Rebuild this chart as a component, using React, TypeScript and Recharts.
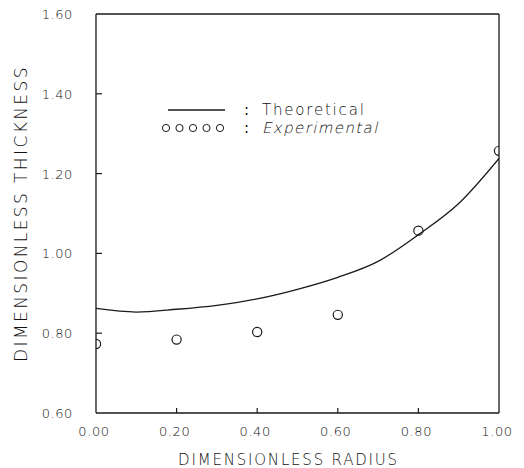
import React from "react";
import {
  ComposedChart,
  Line,
  Scatter,
  XAxis,
  YAxis,
  ReferenceLine,
} from "recharts";

// Theoretical curve (dimensionless radius -> dimensionless thickness)
const theoryRadius = [0, 0.1, 0.2, 0.3, 0.4, 0.5, 0.6, 0.7, 0.8, 0.9, 1.0];
const theoryThickness = [0.862, 0.853, 0.86, 0.87, 0.886, 0.91, 0.94, 0.98, 1.047, 1.125, 1.238];

// Experimental points
const expRadius = [0, 0.2, 0.4, 0.6, 0.8, 1.0];
const expThickness = [0.773, 0.784, 0.803, 0.846, 1.057, 1.257];

const xTicks = [0, 0.2, 0.4, 0.6, 0.8, 1.0];
const yTicks = [0.6, 0.8, 1.0, 1.2, 1.4, 1.6];

const theoryData = theoryRadius.map((x, i) => ({ x, y: theoryThickness[i] }));
const expData = expRadius.map((x, i) => ({ x, y: expThickness[i] }));

const FONT = "'DejaVu Sans', 'Liberation Sans', sans-serif";
const INK = "#1a1a1a";
const TXT = "#111111";
const WEIGHT = 200;

const XTick = (props: any) => {
  const { x, y, payload } = props;
  const v = payload.value;
  const inner = v > 0 && v < 1;
  return (
    <g>
      {inner && <line x1={x} y1={y} x2={x} y2={y - 5} stroke={INK} strokeWidth={1.2} />}
      <text
        x={x - 2}
        y={y + 23}
        textAnchor="middle"
        fontFamily={FONT}
        fontWeight={WEIGHT}
        fontSize={13}
        letterSpacing={0.6}
        fill={TXT}
      >
        {v.toFixed(2)}
      </text>
    </g>
  );
};

const YTick = (props: any) => {
  const { x, y, payload } = props;
  const v = payload.value;
  const inner = v > 0.6 && v < 1.6;
  return (
    <g>
      {inner && <line x1={x} y1={y} x2={x + 6} y2={y} stroke={INK} strokeWidth={1.2} />}
      <text
        x={x - 23}
        y={y + 5}
        textAnchor="end"
        fontFamily={FONT}
        fontWeight={WEIGHT}
        fontSize={13}
        letterSpacing={0.6}
        fill={TXT}
      >
        {v.toFixed(2)}
      </text>
    </g>
  );
};

const YTitle = (props: any) => {
  const vb = props.viewBox || {};
  const cy = vb.y + vb.height / 2;
  const cx = 27;
  return (
    <text
      x={cx}
      y={cy}
      transform={`rotate(-90, ${cx}, ${cy})`}
      textAnchor="middle"
      fontFamily={FONT}
      fontWeight={WEIGHT}
      fontSize={17}
      letterSpacing={2.4}
      fill={TXT}
    >
      DIMENSIONLESS THICKNESS
    </text>
  );
};

const XTitle = (props: any) => {
  const vb = props.viewBox || {};
  const cx = vb.x + vb.width / 2 - 9;
  return (
    <text
      x={cx}
      y={465}
      textAnchor="middle"
      fontFamily={FONT}
      fontWeight={WEIGHT}
      fontSize={15}
      letterSpacing={1.8}
      fill={TXT}
    >
      DIMENSIONLESS RADIUS
    </text>
  );
};

const Circle = (props: any) => {
  const { cx, cy } = props;
  return <circle cx={cx} cy={cy} r={4.6} fill="none" stroke={INK} strokeWidth={1.2} />;
};

const LegendBox = () => (
  <svg
    width={240}
    height={45}
    style={{ position: "absolute", left: 160, top: 98, overflow: "visible" }}
  >
    <line x1={8} y1={12} x2={65} y2={12} stroke={INK} strokeWidth={1.3} />
    {[6, 19.5, 33, 46.5, 60].map((cx) => (
      <circle key={cx} cx={cx} cy={30} r={3.6} fill="none" stroke={INK} strokeWidth={1} />
    ))}
    <text x={84} y={17} fontFamily={FONT} fontSize={15} fill={TXT}>:</text>
    <text x={84} y={35} fontFamily={FONT} fontSize={15} fill={TXT}>:</text>
    <text x={102} y={17} fontFamily={FONT} fontWeight={WEIGHT} fontSize={15} letterSpacing={1.8} fill={TXT}>
      Theoretical
    </text>
    <g transform="translate(102, 35) skewX(-13)">
      <text
        x={0}
        y={0}
        fontFamily={FONT}
        fontWeight={WEIGHT}
        fontSize={15}
        letterSpacing={1.4}
        fill={TXT}
      >
        Experimental
      </text>
    </g>
  </svg>
);

export default function App() {
  return (
    <div style={{ position: "absolute", left: 0, top: 0, width: 524, height: 468, background: "#fff" }}>
      <ComposedChart
        width={524}
        height={468}
        margin={{ top: 14, right: 25, bottom: 10, left: 0 }}
      >
        <XAxis
          type="number"
          dataKey="x"
          domain={[0, 1]}
          ticks={xTicks}
          height={45}
          tickSize={0}
          tickMargin={0}
          tickLine={false}
          axisLine={{ stroke: INK, strokeWidth: 1.3 }}
          tick={<XTick />}
          interval={0}
          label={<XTitle />}
          allowDataOverflow
        />
        <YAxis
          type="number"
          dataKey="y"
          domain={[0.6, 1.6]}
          ticks={yTicks}
          width={96}
          tickSize={0}
          tickMargin={0}
          tickLine={false}
          axisLine={{ stroke: INK, strokeWidth: 1.3 }}
          tick={<YTick />}
          interval={0}
          label={<YTitle />}
          allowDataOverflow
        />
        <ReferenceLine y={1.6} stroke={INK} strokeWidth={1.3} />
        <ReferenceLine x={1} stroke={INK} strokeWidth={1.3} />
        <Line
          data={theoryData}
          dataKey="y"
          type="monotone"
          stroke={INK}
          strokeWidth={1.3}
          dot={false}
          activeDot={false}
          isAnimationActive={false}
        />
        <Scatter
          data={expData}
          dataKey="y"
          shape={<Circle />}
          isAnimationActive={false}
        />
      </ComposedChart>
      <LegendBox />
    </div>
  );
}
